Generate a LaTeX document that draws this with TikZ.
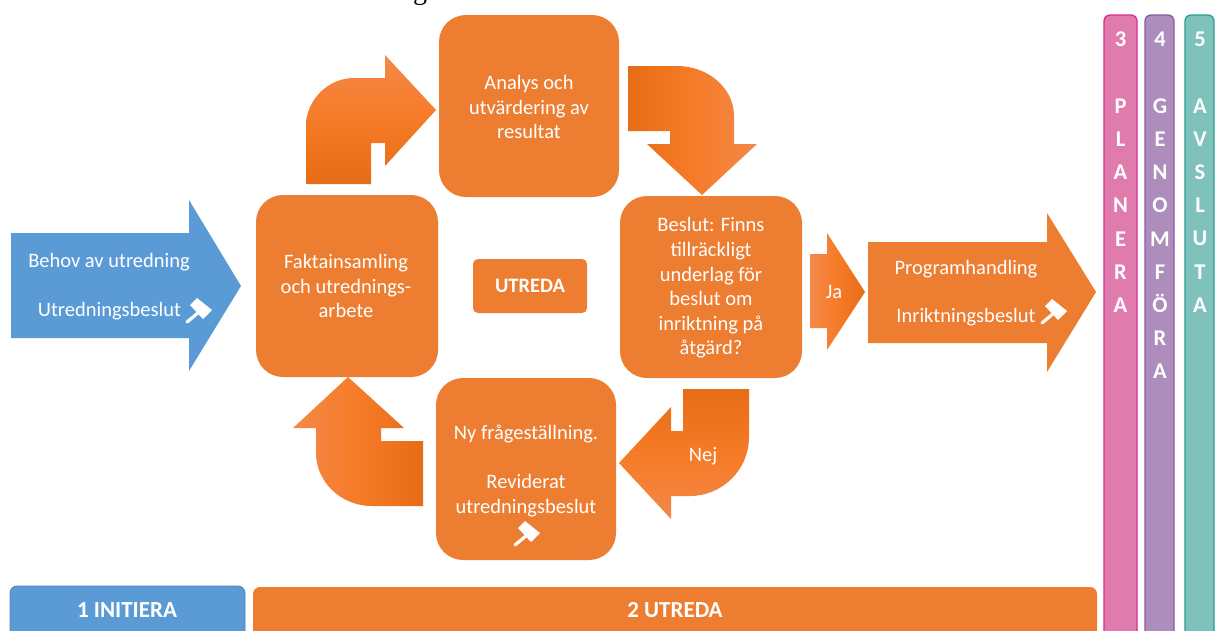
\documentclass[tikz,border=0pt]{standalone}
\usepackage{fontspec}
\setmainfont{Carlito}
\newfontfamily\serifg{Liberation Serif}
\definecolor{blueA}{HTML}{5B9BD5}
\definecolor{orangeA}{HTML}{ED7D31}
\definecolor{gradL}{HTML}{F4884A}
\definecolor{gradM}{HTML}{F57B27}
\definecolor{gradD}{HTML}{E66C17}
\definecolor{pinkA}{HTML}{E07BAE}
\definecolor{pinkE}{HTML}{D62E8E}
\definecolor{purpA}{HTML}{AC8DBB}
\definecolor{purpE}{HTML}{8A5AA6}
\definecolor{tealA}{HTML}{7FC2BC}
\definecolor{tealE}{HTML}{2A9E94}
\pgfdeclarehorizontalshading{lightdark}{100bp}{color(0bp)=(gradL); color(25bp)=(gradL); color(50bp)=(gradM); color(75bp)=(gradD); color(100bp)=(gradD)}
\pgfdeclarehorizontalshading{darklight}{100bp}{color(0bp)=(gradD); color(25bp)=(gradD); color(50bp)=(gradM); color(75bp)=(gradL); color(100bp)=(gradL)}
\tikzset{
  x=1pt,y=-1pt,
  lab/.style={text=white,font=\fontsize{20.5}{24}\selectfont,inner sep=0pt},
  boxlab/.style={text=white,font=\fontsize{20.5}{24.6}\selectfont,inner sep=0pt,align=center},
  barlab/.style={text=white,font=\bfseries\fontsize{22.5}{33.2}\selectfont,inner sep=0pt,align=center,anchor=north},
  boldlab/.style={text=white,font=\bfseries\fontsize{23}{24}\selectfont,inner sep=0pt},
  gavelmark/.pic={
    \fill[white] (-11,-5) -- (-4,-12) -- (11,0) -- (2,9) -- cycle;
    \draw[white,line width=3.2pt,line cap=round] (-2,2) -- (-14,12);
  }
}
\begin{document}
\begin{tikzpicture}
\useasboundingbox (0,0) rectangle (1222,630);
\clip (0,0) rectangle (1222,630);
\fill[white] (0,0) rectangle (1222,630);
\node[font=\serifg\fontsize{28}{30}\selectfont,text=black,inner sep=0pt,anchor=base] (topg) at (420,-1) {g};

% side bars
\draw[pinkE,fill=pinkA,line width=1.3pt,rounded corners=6pt] (1104,15) -- (1137,15) -- (1137,660) -- (1104,660) -- cycle;
\draw[purpE,fill=purpA,line width=1.3pt,rounded corners=6pt] (1145,15) -- (1174,15) -- (1174,660) -- (1145,660) -- cycle;
\draw[tealE,fill=tealA,line width=1.3pt,rounded corners=6pt] (1185,15) -- (1214,15) -- (1214,660) -- (1185,660) -- cycle;
\node[barlab] (pl) at (1120.5,32) {3\\[0pt]\strut\\P\\L\\A\\N\\E\\R\\A};
\node[barlab] (ge) at (1160,32) {4\\[0pt]\strut\\G\\E\\N\\O\\M\\F\\Ö\\R\\A};
\node[barlab] (av) at (1200,32) {5\\[0pt]\strut\\A\\V\\S\\L\\U\\T\\A};

% bottom bars
\draw[blueA!85!black,fill=blueA,line width=.8pt,rounded corners=7pt] (10,586) -- (245,586) -- (245,660) -- (10,660) -- cycle;
\fill[orangeA,rounded corners=7pt] (253,587) -- (1097,587) -- (1097,660) -- (253,660) -- cycle;
\node[boldlab] (init) at (127,610) {1 INITIERA};
\node[boldlab] (utr2) at (675,610) {2 UTREDA};

% boxes
\fill[orangeA,rounded corners=27pt] (439,15) rectangle (619,197);
\fill[orangeA,rounded corners=27pt] (256,195) rectangle (438,377);
\fill[orangeA,rounded corners=27pt] (620,196) rectangle (802,378);
\fill[orangeA,rounded corners=27pt] (436,378) rectangle (616,560);
\fill[orangeA,rounded corners=5pt] (473,259) rectangle (587,313);
\node[boxlab] (analys) at (529,107) {Analys och\\utvärdering av\\resultat};
\node[boxlab] (fakta) at (346,286) {Faktainsamling\\och utrednings-\\arbete};
\node[boxlab] (beslut) at (711,288) {Beslut: Finns\\tillräckligt\\underlag för\\beslut om\\inriktning på\\åtgärd?};
\node[boxlab] (ny) at (526,471) {Ny frågeställning.\\[24.6pt]Reviderat\\utredningsbeslut};
\node[boldlab,font=\bfseries\fontsize{20.5}{22}\selectfont] (utr) at (530,286) {UTREDA};

% straight arrows
\fill[blueA] (11,233) -- (189,233) -- (189,200) -- (241,286) -- (189,371) -- (189,338) -- (11,338) -- cycle;
\fill[orangeA] (868,242) -- (1047,242) -- (1047,213) -- (1096,292) -- (1047,372) -- (1047,343) -- (868,343) -- cycle;
\shade[shading=lightdark] (810,254) -- (827,254) -- (827,233) -- (865,292) -- (827,350) -- (827,328) -- (810,328) -- cycle;

% bent arrows
\shade[shading=darklight,shading angle=90]
  (306,184) -- (371,184) -- (371,143) -- (385,143) -- (385,166) -- (436,110) -- (385,55) -- (385,78)
  -- (354,78) .. controls (328,78) and (306,100) .. (306,126) -- cycle;
\shade[shading=darklight]
  (628,66) -- (677,66) .. controls (708,66) and (734,88) .. (734,116) -- (734,144) -- (757,144)
  -- (702,195) -- (647,144) -- (670,144) -- (670,131) -- (628,131) -- cycle;
\shade[shading=lightdark,shading angle=90]
  (683,389) -- (749,389) -- (749,437) .. controls (749,470) and (722,496) .. (690,496) -- (671,496)
  -- (671,519) -- (619,463) -- (671,407) -- (671,431) -- (683,431) -- cycle;
\shade[shading=lightdark]
  (348,377) -- (404,428) -- (381,428) -- (381,441) -- (423,441) -- (423,506) -- (372,506)
  .. controls (341,506) and (316,482) .. (316,453) -- (316,428) -- (293,428) -- cycle;

% arrow labels
\node[lab] (behov) at (109,262) {Behov av utredning};
\node[lab] (ub) at (109.5,311) {Utredningsbeslut};
\node[lab] (prog) at (966,269) {Programhandling};
\node[lab] (ib) at (966,317) {Inriktningsbeslut};
\node[lab] (ja) at (834,292) {Ja};
\node[lab] (nej) at (703,456) {Nej};

% gavels
\pic at (201,310) {gavelmark};
\pic at (1056,311) {gavelmark};
\pic at (529,533) {gavelmark};
\end{tikzpicture}
\end{document}
